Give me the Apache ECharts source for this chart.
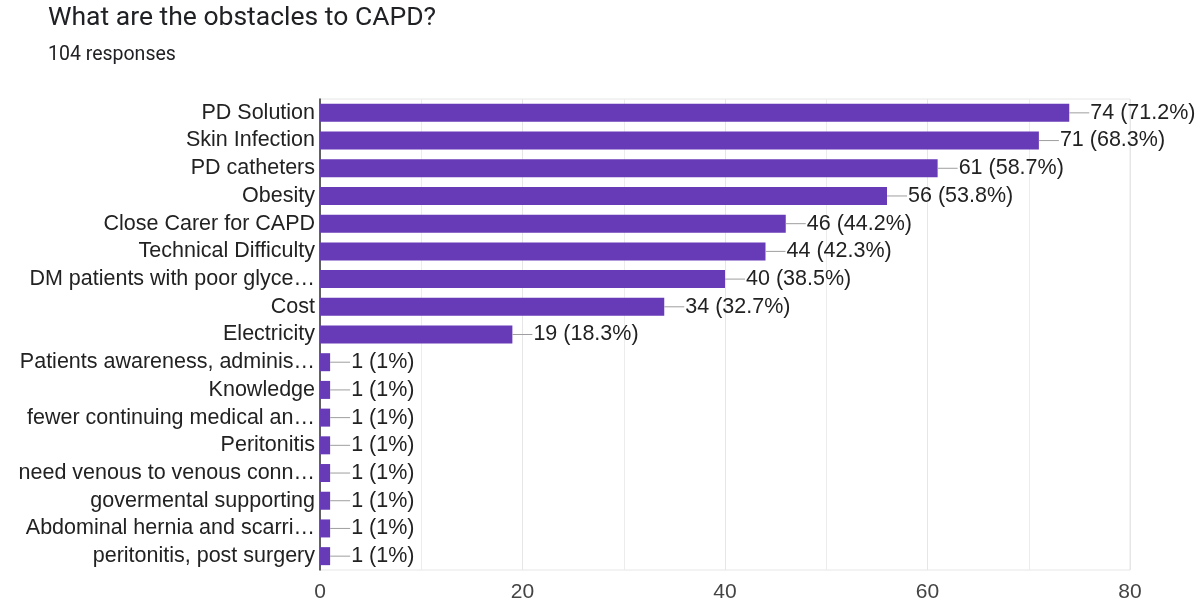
<!DOCTYPE html>
<html>
<head>
<meta charset="utf-8">
<script src="https://cdn.jsdelivr.net/npm/echarts@6/dist/echarts.min.js"></script>
<style>
html,body{margin:0;padding:0;background:#fff;}
#c{width:1203px;height:607px;}
</style>
</head>
<body>
<div id="c"></div>
<script>
const categories = [
  "PD Solution",
  "Skin Infection",
  "PD catheters",
  "Obesity",
  "Close Carer for CAPD",
  "Technical Difficulty",
  "DM patients with poor glyce…",
  "Cost",
  "Electricity",
  "Patients awareness, adminis…",
  "Knowledge",
  "fewer continuing medical an…",
  "Peritonitis",
  "need venous to venous conn…",
  "govermental supporting",
  "Abdominal hernia and scarri…",
  "peritonitis, post surgery"
];
const counts = [74, 71, 61, 56, 46, 44, 40, 34, 19, 1, 1, 1, 1, 1, 1, 1, 1];
const percents = ["71.2%", "68.3%", "58.7%", "53.8%", "44.2%", "42.3%", "38.5%", "32.7%", "18.3%", "1%", "1%", "1%", "1%", "1%", "1%", "1%", "1%"];
const xTicks = [0, 20, 40, 60, 80];

const chart = echarts.init(document.getElementById('c'), null, {renderer: 'canvas'});
const FONT = '"Liberation Sans", Arial, sans-serif';
chart.setOption({
  animation: false,
  backgroundColor: '#ffffff',
  title: [
    {text: 'What are the obstacles to CAPD?', left: 43, top: 0,
     textStyle: {fontFamily: 'Roboto, "Liberation Sans", sans-serif', fontSize: 26.5, fontWeight: 'normal', color: '#202124'}},
    {text: '104 responses', left: 43, top: 40,
     textStyle: {fontFamily: 'Roboto, "Liberation Sans", sans-serif', fontSize: 19.5, fontWeight: 'normal', color: '#202124'}}
  ],
  grid: {left: 320, right: 73, top: 99, bottom: 37, containLabel: false,
         show: true, borderColor: '#e6e6e6', borderWidth: 1},
  xAxis: {
    type: 'value', min: xTicks[0], max: xTicks[xTicks.length - 1], interval: 20,
    axisLine: {show: false}, axisTick: {show: false},
    splitLine: {show: true, lineStyle: {color: '#e6e6e6', width: 1}},
    minorTick: {show: false, splitNumber: 2},
    minorSplitLine: {show: true, lineStyle: {color: '#ececec', width: 1}},
    axisLabel: {fontFamily: FONT, fontSize: 21, color: '#444', margin: 12}
  },
  yAxis: {
    type: 'category', data: categories, inverse: true,
    axisLine: {show: true, lineStyle: {color: '#333', width: 1.5}},
    axisTick: {show: false},
    splitLine: {show: false},
    axisLabel: {interval: 0, hideOverlap: false, fontFamily: FONT, fontSize: 21.5, color: '#222', margin: 5}
  },
  series: [{
    type: 'bar',
    data: counts,
    barWidth: 18,
    itemStyle: {color: '#673ab7'},
    label: {
      show: true, position: 'right', distance: 0,
      formatter: function (p) {
        return '{l|}{t|' + counts[p.dataIndex] + ' (' + percents[p.dataIndex] + ')}';
      },
      rich: {
        l: {width: 20, height: 1, backgroundColor: '#9e9e9e'},
        t: {fontFamily: FONT, fontSize: 21.5, color: '#222', padding: [0, 0, 0, 1]}
      }
    }
  }]
});
</script>
</body>
</html>
